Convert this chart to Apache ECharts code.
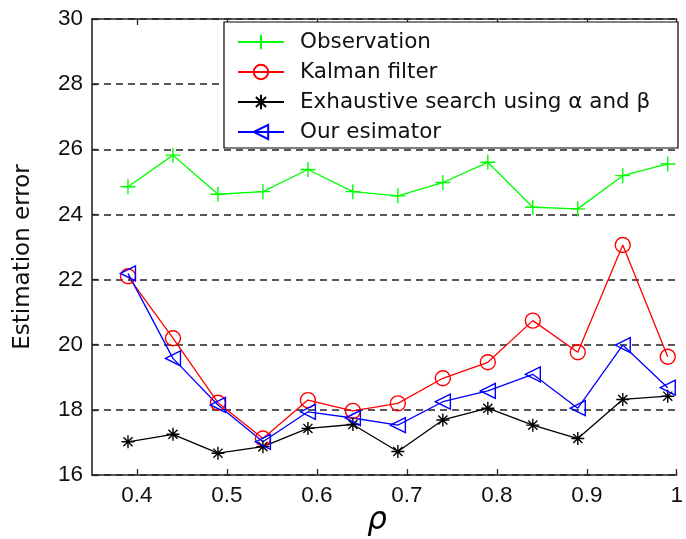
<!DOCTYPE html>
<html>
<head>
<meta charset="utf-8">
<script src="https://cdn.jsdelivr.net/npm/echarts@6/dist/echarts.min.js"></script>
<style>
  html, body { margin: 0; padding: 0; background: #fff; }
  #chart { width: 686px; height: 539px; }
</style>
</head>
<body>
<div id="chart"></div>
<script>
// values
const rho = [0.39, 0.44, 0.49, 0.54, 0.59, 0.64, 0.69, 0.74, 0.79, 0.84, 0.89, 0.94, 0.99];
const observation = [24.85, 25.82, 24.62, 24.70, 25.38, 24.70, 24.57, 24.98, 25.60, 24.22, 24.17, 25.19, 25.55];
const kalman = [22.10, 20.20, 18.22, 17.12, 18.30, 17.97, 18.20, 18.97, 19.46, 20.74, 19.77, 23.06, 19.63];
const exhaustive = [17.02, 17.25, 16.67, 16.87, 17.43, 17.55, 16.72, 17.69, 18.05, 17.53, 17.12, 18.32, 18.42];
const ours = [22.19, 19.58, 18.15, 17.02, 17.94, 17.75, 17.53, 18.25, 18.58, 19.09, 18.05, 19.99, 18.68];
const xTicks = [0.4, 0.5, 0.6, 0.7, 0.8, 0.9, 1.0];

const FONT = "Liberation Sans";
const TEXT_FONT = "DejaVu Sans";
const AXIS = "#262626";

// marker shapes (stroked, not filled)
const plusPath = "path://M0,5L10,5M5,0L5,10";
const starPath = "path://M0,5L10,5M5,0L5,10M1.5,1.5L8.5,8.5M1.5,8.5L8.5,1.5";
const triLeftPath = "path://M0,5L10,0L10,10Z";

function pairs(ys) {
    return rho.map((x, i) => [x, ys[i]]);
}

function makeSeries(name, ys, color, symbol, size) {
    return {
        type: "line",
        name: name,
        data: pairs(ys),
        symbol: symbol,
        symbolSize: size,
        symbolKeepAspect: true,
        showAllSymbol: true,
        lineStyle: { color: color, width: 1.3 },
        itemStyle: { color: "transparent", borderColor: color, borderWidth: 1.4 },
        emphasis: { disabled: true },
    };
}

const chart = echarts.init(document.getElementById("chart"), null, { renderer: "canvas" });

const option = {
    animation: false,
    backgroundColor: "#fff",
    grid: {
        left: 92,
        top: 19,
        width: 597,
        height: 456,
        show: false,
    },
    legend: {
        orient: "vertical",
        left: 237,
        top: 30,
        padding: 0,
        itemWidth: 46,
        itemHeight: 18,
        itemGap: 6,
        z: 10,
        selectedMode: false,
        textStyle: {
            fontFamily: TEXT_FONT,
            fontSize: 21.5,
            lineHeight: 24,
            color: "#111",
            padding: [0, 0, 0, 11],
        },
        data: ["Observation", "Kalman filter", "Exhaustive search using α and β", "Our esimator"],
    },
    graphic: [
        {
            type: "rect",
            z: 5,
            shape: { x: 224, y: 22, width: 454, height: 126 },
            style: { fill: "#fff", stroke: "#000", lineWidth: 1.2 },
        },
        {
            type: "text",
            x: 23,
            y: 257,
            rotation: Math.PI / 2,
            style: {
                text: "Estimation error",
                fontFamily: TEXT_FONT,
                fontSize: 23,
                fill: "#111",
                textAlign: "center",
                textVerticalAlign: "middle",
            },
        },
        {
            type: "text",
            x: 377,
            y: 521,
            style: {
                text: "ρ",
                fontFamily: "DejaVu Sans",
                fontStyle: "italic",
                fontSize: 31,
                fill: "#000",
                textAlign: "center",
                textVerticalAlign: "middle",
            },
        },
    ],
    xAxis: [
        {
            type: "value",
            min: 0.35,
            max: 1.0,
            position: "bottom",
            axisLine: { show: true, onZero: false, lineStyle: { color: AXIS, width: 1.6 } },
            axisTick: { show: true, inside: true, length: 6, customValues: xTicks, lineStyle: { color: AXIS, width: 1.3 } },
            axisLabel: {
                customValues: xTicks,
                margin: 9,
                fontFamily: FONT,
                fontSize: 22.5,
                color: "#111",
                formatter: (v) => (Math.abs(v - 1) < 1e-9 ? "1" : v.toFixed(1)),
            },
            splitLine: { show: false },
        },
        {
            type: "value",
            min: 0.35,
            max: 1.0,
            position: "top",
            axisLine: { show: true, onZero: false, lineStyle: { color: AXIS, width: 1.6 } },
            axisTick: { show: true, inside: true, length: 6, customValues: xTicks, lineStyle: { color: AXIS, width: 1.3 } },
            axisLabel: { show: false },
            splitLine: { show: false },
        },
    ],
    yAxis: {
        type: "value",
        min: 16,
        max: 30,
        interval: 2,
        axisLine: { show: true, onZero: false, lineStyle: { color: AXIS, width: 1.6 } },
        axisTick: { show: true, inside: true, length: 6, lineStyle: { color: AXIS, width: 1.3 } },
        axisLabel: {
            margin: 9,
            fontFamily: FONT,
            fontSize: 22.5,
            color: "#111",
        },
        splitLine: {
            show: true,
            lineStyle: { color: "#222", width: 1.5, type: [7, 5] },
        },
    },
    series: [
        makeSeries("Observation", observation, "#00ff00", plusPath, 15),
        makeSeries("Kalman filter", kalman, "#ff0000", "circle", 15),
        makeSeries("Exhaustive search using α and β", exhaustive, "#000000", starPath, 13),
        makeSeries("Our esimator", ours, "#0000ff", triLeftPath, 15),
    ],
};

chart.setOption(option);
</script>
</body>
</html>
